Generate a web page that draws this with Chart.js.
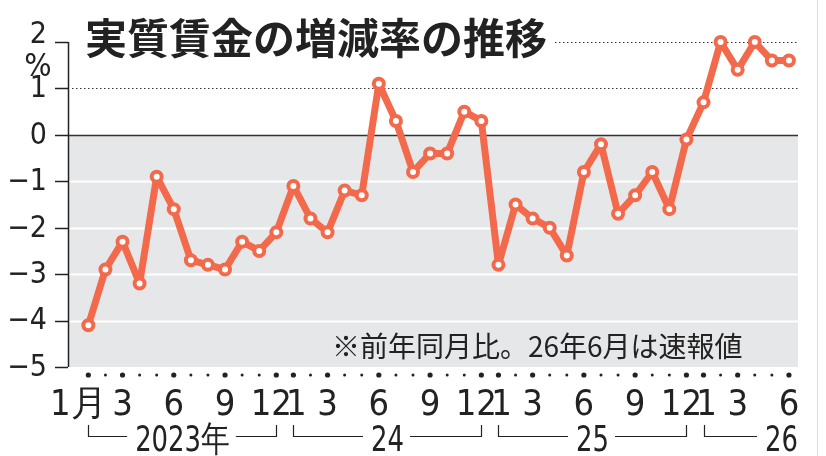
<!DOCTYPE html>
<html lang="ja">
<head>
<meta charset="utf-8">
<title>実質賃金の増減率の推移</title>
<script src="https://cdn.jsdelivr.net/npm/chart.js@4/dist/chart.umd.min.js"></script>
<style>
    html, body { margin: 0; padding: 0; background: #fff; }
    #wrap { width: 826px; height: 456px; position: relative; }
</style>
</head>
<body>
<div id="wrap"><canvas id="wageChart" width="826" height="456"></canvas></div>
<script>
// Months, Jan 2023 - Jun 2026
const months = [1,2,3,4,5,6,7,8,9,10,11,12,
                1,2,3,4,5,6,7,8,9,10,11,12,
                1,2,3,4,5,6,7,8,9,10,11,12,
                1,2,3,4,5,6];
// Real wage change rate (%)
const realWage = [-4.1,-2.9,-2.3,-3.2,-0.9,-1.6,-2.7,-2.8,-2.9,-2.3,-2.5,-2.1,
                  -1.1,-1.8,-2.1,-1.2,-1.3,1.1,0.3,-0.8,-0.4,-0.4,0.5,0.3,
                  -2.8,-1.5,-1.8,-2.0,-2.6,-0.8,-0.2,-1.7,-1.3,-0.8,-1.6,-0.1,
                  0.7,2.0,1.4,2.0,1.6,1.6];
const yTicks = [2, 1, 0, -1, -2, -3, -4, -5];
const labelMonths = [1, 3, 6, 9, 12];
const yearLabels = ['2023年', '24', '25', '26'];

const ORANGE = '#f26a4b';
const INK = '#222';
const NUM_FONT = '"Liberation Sans Narrow", "DejaVu Sans Condensed", "Liberation Sans", sans-serif';
const JP_FONT = '"Noto Sans CJK JP", "Noto Sans", sans-serif';

function fmt(v) {
    return v < 0 ? '\u2212' + Math.abs(v) : String(v);
}

// Background, grid, axis and all texts
const gridPlugin = {
    id: 'gridPlugin',
    beforeDatasetsDraw(chart) {
        const { ctx, chartArea: a, scales: { y } } = chart;
        ctx.save();
        // gray area below zero
        ctx.fillStyle = '#e6e7e9';
        ctx.fillRect(a.left, y.getPixelForValue(0), a.right - a.left, y.getPixelForValue(-5) - y.getPixelForValue(0));

        yTicks.forEach(v => {
            const py = Math.round(y.getPixelForValue(v)) + 0.5;
            if (v < 0 && v > -5) {
                ctx.strokeStyle = '#fff';
                ctx.lineWidth = 2;
                ctx.beginPath(); ctx.moveTo(a.left, py); ctx.lineTo(a.right, py); ctx.stroke();
            } else if (v > 0) {
                ctx.strokeStyle = '#333';
                ctx.lineWidth = 1;
                ctx.setLineDash([1.5, 2.5]);
                ctx.beginPath();
                ctx.moveTo(v === 2 ? 555 : a.left + 4, py);
                ctx.lineTo(a.right, py);
                ctx.stroke();
                ctx.setLineDash([]);
            }
            // tick mark
            ctx.strokeStyle = INK;
            ctx.lineWidth = 1.5;
            ctx.beginPath(); ctx.moveTo(a.left - 13, py); ctx.lineTo(a.left, py); ctx.stroke();
        });

        // zero line
        const p0 = Math.round(y.getPixelForValue(0)) + 0.5;
        ctx.strokeStyle = '#333';
        ctx.lineWidth = 1.6;
        ctx.beginPath(); ctx.moveTo(a.left, p0); ctx.lineTo(a.right, p0); ctx.stroke();

        // y axis line
        ctx.strokeStyle = INK;
        ctx.lineWidth = 1.5;
        ctx.beginPath();
        ctx.moveTo(a.left + 0.5, y.getPixelForValue(2));
        ctx.lineTo(a.left + 0.5, y.getPixelForValue(-5));
        ctx.stroke();

        // note
        ctx.fillStyle = INK;
        ctx.font = '400 28px ' + JP_FONT;
        ctx.textAlign = 'left';
        ctx.textBaseline = 'middle';
        ctx.fillText('※前年同月比。26年6月は速報値', 332, 346);
        ctx.restore();
    },
    afterDraw(chart) {
        const { ctx, chartArea: a, scales: { x, y } } = chart;
        ctx.save();
        ctx.fillStyle = INK;

        // title
        ctx.font = '700 42px ' + JP_FONT;
        ctx.textAlign = 'left';
        ctx.textBaseline = 'middle';
        ctx.fillText('実質賃金の増減率の推移', 85, 38);

        // y labels
        ctx.font = '30px ' + NUM_FONT;
        ctx.textAlign = 'right';
        yTicks.forEach(v => {
            const py = y.getPixelForValue(v) + (v === 2 ? -7 : 1);
            ctx.fillText(fmt(v), 47, py);
        });
        ctx.font = '32px ' + NUM_FONT;
        ctx.textAlign = 'center';
        ctx.fillText('%', 38, 68);

        // month dots
        months.forEach((m, i) => {
            const px = x.getPixelForValue(i);
            const big = labelMonths.includes(m);
            ctx.beginPath();
            ctx.arc(px, 375, big ? 2.6 : 1.5, 0, Math.PI * 2);
            ctx.fill();
        });

        // month labels
        ctx.font = '36px ' + NUM_FONT;
        ctx.textAlign = 'center';
        ctx.textBaseline = 'alphabetic';
        months.forEach((m, i) => {
            if (!labelMonths.includes(m)) return;
            let px = x.getPixelForValue(i);
            let txt = String(m);
            if (i === 0) { txt = '1月'; px -= 10; }
            else if (m === 12) px -= 5;
            else if (m === 1) px += 3;
            ctx.fillText(txt, px, 415);
        });

        // year brackets
        const sx = 0.8;
        ctx.lineWidth = 1.2;
        ctx.strokeStyle = INK;
        ctx.font = '36px ' + NUM_FONT;
        yearLabels.forEach((lab, k) => {
            const i0 = k * 12;
            const i1 = Math.min(i0 + 11, months.length - 1);
            const x0 = Math.round(x.getPixelForValue(i0)) + 0.5;
            const x1 = Math.round(x.getPixelForValue(i1)) + 0.5;
            const last = i1 - i0 < 11;
            const w = ctx.measureText(lab).width * sx;
            const cx = last ? a.right - w / 2 : (x0 + x1) / 2;
            ctx.save();
            ctx.translate(cx, 451);
            ctx.scale(sx, 1);
            ctx.fillText(lab, 0, 0);
            ctx.restore();
            const by = 436.5;
            ctx.beginPath();
            ctx.moveTo(x0, 425); ctx.lineTo(x0, by); ctx.lineTo(cx - w / 2 - 8, by);
            if (!last) {
                ctx.moveTo(cx + w / 2 + 6, by);
                ctx.lineTo(x1, by); ctx.lineTo(x1, 425);
            }
            ctx.stroke();
        });

        // right frame line
        ctx.strokeStyle = '#ddd';
        ctx.lineWidth = 1;
        ctx.beginPath(); ctx.moveTo(817.5, 0); ctx.lineTo(817.5, 456); ctx.stroke();
        ctx.restore();
    }
};

const chart = new Chart(document.getElementById('wageChart').getContext('2d'), {
    type: 'line',
    data: {
        datasets: [{
            label: '実質賃金',
            data: realWage.map((v, i) => ({ x: i, y: v })),
            borderColor: ORANGE,
            borderWidth: 7,
            borderJoinStyle: 'round',
            borderCapStyle: 'round',
            pointBackgroundColor: '#fff',
            pointBorderColor: ORANGE,
            pointBorderWidth: 4,
            pointRadius: 5,
            tension: 0,
            clip: false
        }]
    },
    options: {
        responsive: false,
        animation: false,
        layout: { padding: { left: 68, right: 28, top: 42, bottom: 89 } },
        scales: {
            x: { type: 'linear', display: false, min: -1.19, max: 41.53 },
            y: { type: 'linear', display: false, min: -5, max: 2 }
        },
        plugins: {
            legend: { display: false },
            tooltip: { enabled: false }
        }
    },
    plugins: [gridPlugin]
});
</script>
</body>
</html>
